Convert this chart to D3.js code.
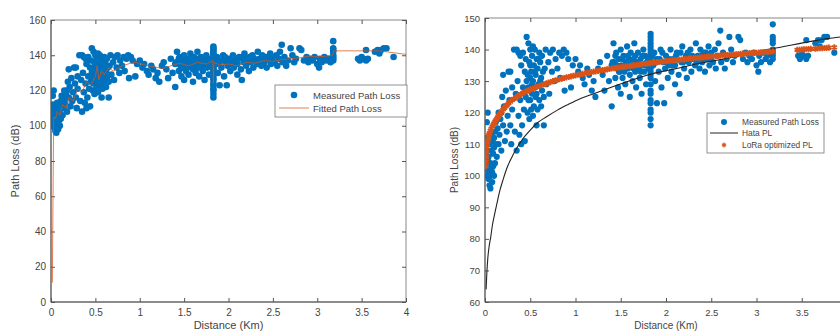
<!DOCTYPE html>
<html>
<head>
<meta charset="utf-8">
<script src="https://cdn.jsdelivr.net/npm/d3@7"></script>
<style>
  html, body { margin: 0; padding: 0; background: #fff; }
  svg { display: block; font-family: "Liberation Sans", Arial, Helvetica, sans-serif; }
</style>
</head>
<body>
<svg id="fig" width="840" height="336"></svg>
<script>
// Measured path loss samples: [distance (km), path loss (dB)]
const measured = [
  [0.01,103],[0.01,107],[0.01,110],[0.02,100],[0.02,104],[0.02,112],[0.02,117],[0.03,102],[0.03,105],[0.03,108],
  [0.03,120],[0.04,99],[0.04,101],[0.04,106],[0.05,97],[0.05,103],[0.05,110],[0.06,96],[0.06,100],[0.06,104],
  [0.07,102],[0.07,108],[0.07,113],[0.08,98],[0.08,101],[0.08,111],[0.09,103],[0.09,107],[0.10,100],[0.10,109],
  [0.10,112],[0.11,104],[0.11,114],[0.12,110],[0.12,117],
  [0.13,106],[0.14,115],[0.15,120],[0.15,110],[0.16,113],[0.17,118],[0.18,120],[0.18,108],[0.19,125],[0.2,132],
  [0.2,116],[0.21,122],[0.22,111],[0.23,127],[0.24,114],[0.25,119],[0.26,133],[0.27,124],[0.28,133],[0.28,116],
  [0.29,110],[0.3,121],[0.3,128],
  [0.32,140],[0.33,114],[0.34,126],[0.35,140],[0.35,108],[0.36,130],[0.37,139],[0.37,119],[0.38,113],[0.39,138],
  [0.39,124],[0.4,110],[0.4,135],[0.41,116],[0.42,128],[0.42,139],[0.43,121],[0.44,133],[0.44,111],[0.45,137],
  [0.45,125],
  [0.46,144],[0.47,132],[0.47,120],[0.48,142],[0.48,128],[0.49,136],[0.49,118],[0.5,131],[0.5,124],[0.5,140],
  [0.51,121],[0.51,133],[0.52,138],[0.52,126],[0.53,119],[0.53,130],[0.54,135],[0.54,122],[0.55,128],[0.55,140],
  [0.56,125],[0.56,132],[0.57,137],[0.57,116],[0.58,121],[0.58,134],[0.59,129],[0.6,139],[0.6,124],[0.61,136],
  [0.62,131],[0.63,127],[0.63,138],[0.64,133],[0.65,116],[0.65,125],
  [0.46,130],[0.48,124],[0.5,135],[0.52,129],[0.53,141],[0.55,133],[0.57,126],[0.59,137],[0.61,130],[0.62,122],
  [0.66,134],[0.67,140],[0.68,129],[0.7,136],[0.71,126],[0.72,139],[0.74,133],[0.75,140],[0.77,130],[0.78,137],
  [0.8,134],[0.82,139],[0.83,131],[0.85,138],[0.87,140],[0.88,127],[0.9,139],[0.92,137],[0.95,128],[0.97,135],
  [1.0,137],[1.03,133],[1.05,135],[1.08,131],[1.1,129],[1.13,134],[1.15,132],[1.18,127],[1.2,130],[1.22,125],
  [1.25,134],[1.27,136],[1.3,132],[1.32,127],[1.35,138],[1.37,130],[1.4,122],[1.4,135],
  [1.42,142],[1.43,136],[1.44,131],[1.45,139],[1.46,134],[1.47,128],[1.48,137],[1.49,133],[1.5,140],[1.5,126],
  [1.51,135],[1.52,131],[1.53,138],[1.54,133],[1.55,129],[1.56,136],[1.57,141],[1.58,134],[1.59,137],[1.6,125],
  [1.6,132],[1.61,139],[1.62,135],[1.63,130],[1.64,137],[1.65,142],[1.66,133],[1.67,128],[1.68,136],[1.69,139],
  [1.7,134],[1.71,131],[1.72,137],[1.73,126],[1.74,135],[1.75,140],[1.76,133],[1.77,138],[1.78,129],[1.79,136],
  [1.41,136],[1.44,138],[1.46,135],[1.48,133],[1.52,137],[1.55,135],[1.58,138],[1.61,136],[1.64,134],[1.66,138],
  [1.69,135],[1.72,133],[1.74,138],[1.77,135],[1.8,137],[1.81,134],
  [1.83,116],[1.83,118],[1.83,120],[1.83,121],[1.83,123],[1.83,124],[1.83,126],[1.83,127],[1.83,129],[1.83,131],
  [1.83,132],[1.83,133],[1.83,134],[1.83,135],[1.83,136],[1.83,137],[1.83,138],[1.83,139],[1.83,140],[1.83,141],
  [1.83,142],[1.83,143],[1.83,144],[1.83,145],
  [1.86,135],[1.87,139],[1.88,130],[1.9,123],[1.9,137],[1.92,133],[1.94,140],[1.95,128],[1.97,136],[1.98,123],
  [1.99,134],[2.0,138],[2.02,131],[2.03,135],[2.05,140],[2.06,133],[2.08,137],[2.1,129],[2.1,135],[2.12,139],
  [2.14,132],[2.15,126],[2.17,136],[2.18,141],[2.2,134],[2.22,138],[2.23,131],[2.25,136],[2.27,140],[2.28,133],
  [2.3,137],[2.32,135],[2.33,142],[2.35,138],[2.37,134],[2.38,140],[2.4,136],[2.42,139],[2.43,133],[2.45,137],
  [2.47,141],[2.48,135],[2.5,139],
  [1.85,138],[1.89,136],[1.93,137],[1.96,139],[2.01,136],[2.04,137],[2.07,135],[2.11,138],[2.16,139],[2.19,136],
  [2.24,139],[2.29,138],[2.34,136],[2.39,138],[2.44,139],[2.49,137],
  [2.52,136],[2.54,140],[2.55,134],[2.57,138],[2.58,142],[2.6,146],[2.61,136],[2.63,139],[2.65,134],[2.67,137],
  [2.7,144],[2.72,140],[2.74,136],[2.76,138],[2.8,144],[2.82,143],[2.85,137],[2.88,139],[2.9,136],[2.92,138],
  [2.95,137],[2.97,139],[3.0,135],[3.02,133],[3.03,138],[3.05,136],[3.08,139],[3.1,137],[3.12,138],[3.15,136],
  [3.18,137],[3.18,138],[3.18,139],[3.18,140],[3.18,142],[3.18,143],[3.18,144],[3.18,148],
  [3.46,138],[3.48,137],[3.5,139],[3.52,138],[3.55,137],[3.57,138],[3.55,143],
  [3.65,142],[3.68,143],[3.7,141],[3.72,143],[3.75,144],[3.78,144],[3.86,139]
];

// Piecewise fitted path loss (left panel)
const fittedPL = [
  [0.015,11],[0.03,105],[0.05,104],[0.07,108],[0.1,106],[0.13,112],[0.17,110],[0.2,116],[0.25,114],[0.3,121],
  [0.35,119],[0.4,125],[0.45,123],[0.5,128],[0.52,134],[0.54,126],[0.57,131],[0.6,129],[0.65,133],[0.7,131],
  [0.8,134],[0.9,135.5],[0.96,136],[1.05,134.5],[1.15,133.5],[1.26,132.5],[1.35,134],[1.45,135.5],[1.55,134],
  [1.65,136],[1.75,135],[1.825,137],[1.83,124],[1.835,136],[1.9,134.5],[2.0,135],[2.1,134],[2.2,136],[2.3,135.5],
  [2.4,137],[2.5,136.5],[2.6,137.5],[2.7,138],[2.8,138.5],[2.9,139.5],[3.0,139],[3.1,139.5],[3.17,140],
  [3.19,142.5],[3.7,142.5],[4.0,140.5]
];

// Hata model path loss (right panel)
const hataPL = [
  [0.012,64],[0.02,69],[0.03,73.5],[0.045,77.5],[0.063,80.5],[0.08,84],[0.1,87],[0.13,91],[0.166,95.5],
  [0.2,98.8],[0.25,103],[0.29,105.5],[0.35,108.7],[0.42,111.8],[0.5,114.5],[0.58,116.8],[0.68,118.7],
  [0.8,120.8],[0.92,122.6],[1.05,124.4],[1.2,126],[1.41,128.2],[1.6,130.1],[1.78,131.8],[1.95,133],
  [2.12,134],[2.3,135.2],[2.56,136.6],[2.8,138],[3.0,139.3],[3.29,140.9],[3.6,142.6],[3.9,143.9],[4.0,144.2]
];

// LoRa optimized path loss (right panel)
const loraPL = [
  [0.01,103],[0.012,104.5],[0.015,106],[0.018,107.5],[0.02,109],[0.025,110],[0.03,111],[0.035,111.8],
  [0.04,112.5],[0.045,113],[0.05,113.5],[0.06,114.3],[0.07,115],[0.08,115.6],[0.09,116.1],[0.1,116.6],
  [0.11,117.1],[0.12,117.6],[0.13,118],[0.14,118.5],[0.15,119],[0.16,119.4],[0.17,119.8],[0.185,120.4],
  [0.2,121],[0.215,121.5],[0.23,122],[0.245,122.5],[0.26,123],[0.28,123.5],[0.3,124],[0.32,124.4],
  [0.34,124.8],[0.36,125.2],[0.38,125.5],[0.4,125.9],[0.42,126.2],[0.44,126.5],[0.46,126.8],[0.48,127],
  [0.5,127.3],[0.525,127.6],[0.55,127.9],[0.575,128.2],[0.6,128.5],[0.625,128.7],[0.65,129],[0.675,129.2],
  [0.7,129.5],[0.725,129.7],[0.75,130],[0.775,130.2],[0.8,130.4],[0.825,130.6],[0.85,130.8],[0.875,131],
  [0.9,131.2],[0.925,131.3],[0.95,131.5],[0.975,131.7],[1.0,131.8],[1.025,132],[1.05,132.1],[1.075,132.3],
  [1.1,132.4],[1.125,132.6],[1.15,132.7],[1.175,132.9],[1.2,133],[1.225,133.1],[1.25,133.2],[1.275,133.4],
  [1.3,133.5],[1.325,133.6],[1.35,133.7],[1.375,133.9],[1.4,134],[1.425,134.1],[1.45,134.2],[1.475,134.3],
  [1.5,134.4],[1.525,134.5],[1.55,134.6],[1.575,134.7],[1.6,134.8],[1.625,134.9],[1.65,135],[1.675,135.1],
  [1.7,135.2],[1.725,135.3],[1.75,135.4],[1.775,135.5],[1.8,135.6],[1.825,135.7],[1.85,135.8],[1.875,135.9],
  [1.9,136],[1.925,136.05],[1.95,136.1],[1.975,136.2],[2.0,136.3],[2.025,136.4],[2.05,136.5],[2.075,136.55],
  [2.1,136.6],[2.125,136.7],[2.15,136.8],[2.175,136.85],[2.2,136.9],[2.225,137],[2.25,137.1],[2.275,137.15],
  [2.3,137.2],[2.325,137.3],[2.35,137.4],[2.375,137.45],[2.4,137.5],[2.425,137.6],[2.45,137.7],[2.475,137.75],
  [2.5,137.8],[2.525,137.85],[2.55,137.9],[2.575,138],[2.6,138.1],[2.625,138.15],[2.65,138.2],[2.675,138.25],
  [2.7,138.3],[2.725,138.35],[2.75,138.4],[2.775,138.5],[2.8,138.6],[2.825,138.65],[2.85,138.7],[2.875,138.75],
  [2.9,138.8],[2.925,138.85],[2.95,138.9],[2.975,138.95],[3.0,139],[3.025,139.05],[3.05,139.1],[3.075,139.15],
  [3.1,139.2],[3.125,139.25],[3.15,139.3],[3.18,139.4],
  [3.45,139.9],[3.475,139.95],[3.5,140],[3.525,140.05],[3.55,140.1],[3.575,140.15],[3.6,140.2],
  [3.65,140.3],[3.675,140.35],[3.7,140.4],[3.725,140.45],[3.75,140.5],[3.775,140.55],[3.8,140.6],[3.86,140.7]
];

const xTicks = [0, 0.5, 1, 1.5, 2, 2.5, 3, 3.5, 4];
const yTicksLeft = [0, 20, 40, 60, 80, 100, 120, 140, 160];
const yTicksRight = [60, 70, 80, 90, 100, 110, 120, 130, 140, 150];

const BLUE = "#0072BD", ORANGE = "#D95319", AXIS = "#555";
const svg = d3.select("#fig");

function panel(opts) {
  const g = svg.append("g");
  const x = d3.scaleLinear().domain([0, 4]).range([opts.x0, opts.x1]);
  const y = d3.scaleLinear().domain(opts.yDomain).range([opts.yBottom, opts.yTop]);

  const clipId = "clip" + opts.id;
  svg.append("clipPath").attr("id", clipId).append("rect")
    .attr("x", opts.x0).attr("y", opts.yTop)
    .attr("width", opts.x1 - opts.x0).attr("height", opts.yBottom - opts.yTop);

  // frame with inward ticks on all four sides
  const tl = 4;
  const ax = g.append("g").attr("stroke", AXIS).attr("stroke-width", 1).attr("fill", "none");
  ax.append("rect").attr("x", opts.x0).attr("y", opts.yTop)
    .attr("width", opts.x1 - opts.x0).attr("height", opts.yBottom - opts.yTop).attr("stroke", "#888");
  ax.append("line").attr("x1", opts.x0).attr("x2", opts.x1).attr("y1", opts.yBottom).attr("y2", opts.yBottom);
  ax.append("line").attr("x1", opts.x0).attr("x2", opts.x0).attr("y1", opts.yTop).attr("y2", opts.yBottom);

  const fmt = d3.format("~g");
  const xAxB = d3.axisBottom(x).tickValues(xTicks).tickSizeInner(-tl).tickSizeOuter(0).tickPadding(7)
    .tickFormat(d => (d <= opts.xLabelMax ? fmt(d) : ""));
  const xAxT = d3.axisTop(x).tickValues(xTicks).tickSizeInner(-tl).tickSizeOuter(0).tickFormat("");
  const yAxL = d3.axisLeft(y).tickValues(opts.yTicks).tickSizeInner(-tl).tickSizeOuter(0).tickPadding(5);
  const yAxR = d3.axisRight(y).tickValues(opts.yTicks).tickSizeInner(-tl).tickSizeOuter(0).tickFormat("");

  const style = sel => {
    sel.select(".domain").remove();
    sel.selectAll(".tick line").attr("stroke", AXIS);
    sel.selectAll(".tick text").attr("fill", "#444").style("font-size", opts.tickFont + "px")
      .style("font-family", "Liberation Sans, Arial, sans-serif");
  };
  g.append("g").attr("transform", `translate(0,${opts.yBottom})`).call(xAxB).call(style);
  g.append("g").attr("transform", `translate(0,${opts.yTop})`).call(xAxT).call(style);
  g.append("g").attr("transform", `translate(${opts.x0},0)`).call(yAxL).call(style);
  g.append("g").attr("transform", `translate(${opts.x1},0)`).call(yAxR).call(style);

  // axis titles
  g.append("text").attr("x", (opts.x0 + opts.x1) / 2).attr("y", opts.xTitleY)
    .attr("text-anchor", "middle").attr("fill", "#444").style("font-size", opts.titleFont + "px")
    .text("Distance (Km)");
  g.append("text").attr("transform", `translate(${opts.yTitleX},${(opts.yTop + opts.yBottom) / 2}) rotate(-90)`)
    .attr("text-anchor", "middle").attr("fill", "#444").style("font-size", opts.titleFont + "px")
    .text("Path Loss (dB)");

  const plot = g.append("g").attr("clip-path", `url(#${clipId})`);
  return { g, plot, x, y };
}

// ---- Left panel: measured vs fitted path loss ----
const L = panel({ id: "L", x0: 51, x1: 406, yTop: 20, yBottom: 302, yDomain: [0, 160],
  yTicks: yTicksLeft, tickFont: 10, titleFont: 11, xTitleY: 329, yTitleX: 19, xLabelMax: 4 });

L.plot.append("g").selectAll("circle").data(measured).join("circle")
  .attr("cx", d => L.x(d[0])).attr("cy", d => L.y(d[1])).attr("r", 3.3).attr("fill", BLUE);

L.plot.append("path").datum(fittedPL)
  .attr("d", d3.line().x(d => L.x(d[0])).y(d => L.y(d[1])))
  .attr("fill", "none").attr("stroke", ORANGE).attr("stroke-opacity", 0.75).attr("stroke-width", 1);

// left legend
{
  const lg = L.g.append("g");
  lg.append("rect").attr("x", 275).attr("y", 85).attr("width", 132).attr("height", 32)
    .attr("fill", "#fff").attr("stroke", "#777").attr("stroke-width", 0.8);
  lg.append("circle").attr("cx", 294).attr("cy", 95).attr("r", 3.3).attr("fill", BLUE);
  lg.append("line").attr("x1", 279).attr("x2", 309).attr("y1", 108).attr("y2", 108)
    .attr("stroke", ORANGE).attr("stroke-opacity", 0.75).attr("stroke-width", 1);
  lg.append("text").attr("x", 313).attr("y", 98.5).attr("fill", "#444").style("font-size", "9.5px").text("Measured Path Loss");
  lg.append("text").attr("x", 313).attr("y", 111.5).attr("fill", "#444").style("font-size", "9.5px").text("Fitted Path Loss");
}

// ---- Right panel: measured vs Hata vs LoRa optimized ----
// the x axis runs past the right edge of the figure, so its last label is not drawn
const R = panel({ id: "R", x0: 485, x1: 847, yTop: 18, yBottom: 302, yDomain: [60, 150],
  yTicks: yTicksRight, tickFont: 9.5, titleFont: 10, xTitleY: 329, yTitleX: 458, xLabelMax: 3.5 });

R.plot.append("g").selectAll("circle").data(measured).join("circle")
  .attr("cx", d => R.x(d[0])).attr("cy", d => R.y(d[1])).attr("r", 3.1).attr("fill", BLUE);

R.plot.append("path").datum(hataPL)
  .attr("d", d3.line().curve(d3.curveMonotoneX).x(d => R.x(d[0])).y(d => R.y(d[1])))
  .attr("fill", "none").attr("stroke", "#222").attr("stroke-width", 1.1);

const star = d3.symbol().type(d3.symbolAsterisk).size(26);
R.plot.append("g").selectAll("path").data(loraPL).join("path")
  .attr("transform", d => `translate(${R.x(d[0])},${R.y(d[1])})`)
  .attr("d", star).attr("fill", "none").attr("stroke", ORANGE).attr("stroke-width", 1.8);

// right legend
{
  const lg = R.g.append("g");
  lg.append("rect").attr("x", 707).attr("y", 113).attr("width", 117).attr("height", 40)
    .attr("fill", "#fff").attr("stroke", "#777").attr("stroke-width", 0.8);
  lg.append("circle").attr("cx", 724).attr("cy", 122).attr("r", 3).attr("fill", BLUE);
  lg.append("line").attr("x1", 710).attr("x2", 738).attr("y1", 133).attr("y2", 133)
    .attr("stroke", "#222").attr("stroke-width", 1);
  lg.append("path").attr("transform", "translate(724,145)").attr("d", d3.symbol().type(d3.symbolAsterisk).size(16))
    .attr("fill", "none").attr("stroke", ORANGE).attr("stroke-width", 1.3);
  const tx = [["Measured Path Loss", 125], ["Hata PL", 136], ["LoRa optimized PL", 148]];
  tx.forEach(([t, yy]) => lg.append("text").attr("x", 742).attr("y", yy).attr("fill", "#444")
    .style("font-size", "8.4px").text(t));
}
</script>
</body>
</html>
